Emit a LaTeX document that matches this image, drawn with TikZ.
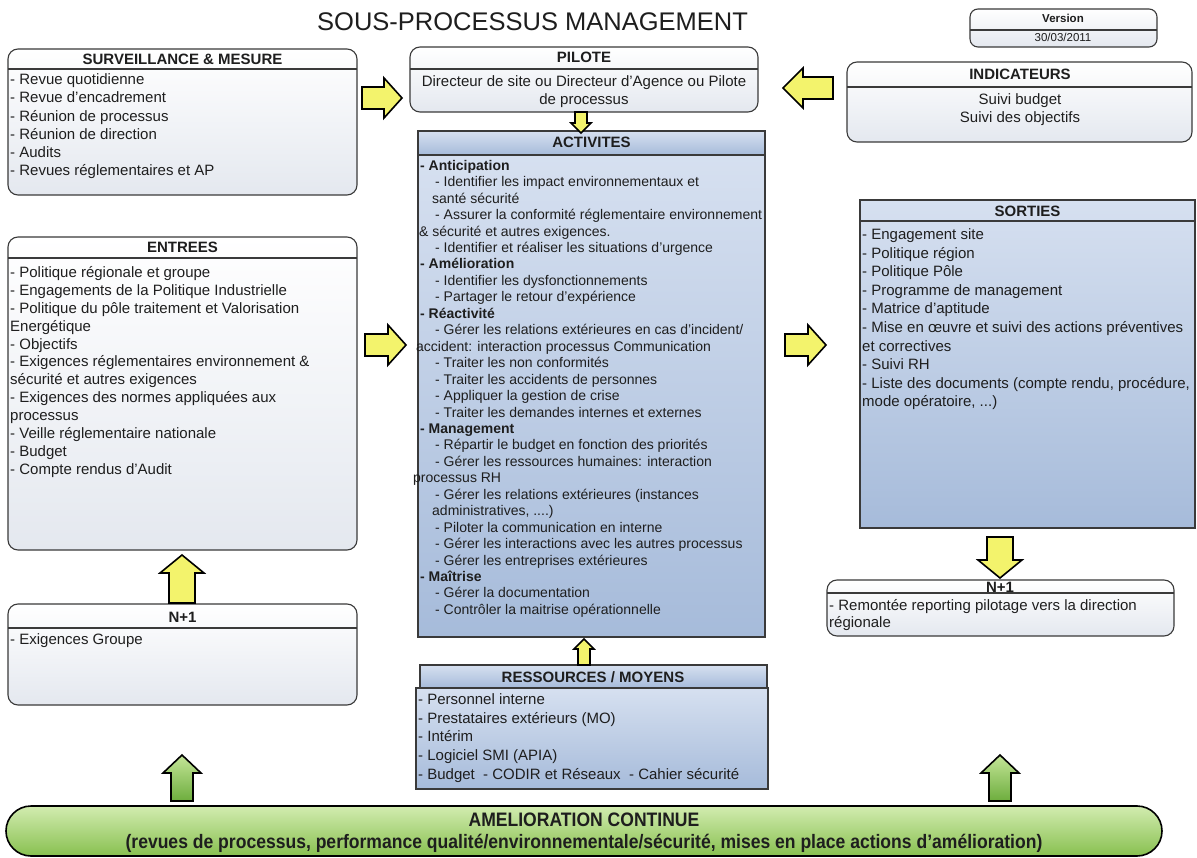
\documentclass[tikz,border=0pt]{standalone}
\usepackage{fontspec}
\setmainfont{Liberation Sans}
\newfontfamily\narrowfont[FakeStretch=0.9,Ligatures=TeX]{Liberation Sans}
\usetikzlibrary{calc}
\definecolor{boxline}{HTML}{3A3A3A}
\definecolor{txt}{HTML}{1E1E1E}
\definecolor{wtop}{HTML}{FFFFFF}
\definecolor{wbot}{HTML}{E4E8EF}
\definecolor{btop}{HTML}{D6E0F0}
\definecolor{bbot}{HTML}{A6BBDA}
\definecolor{yel}{HTML}{F3F36C}
\definecolor{gtop}{HTML}{C4E598}
\definecolor{gbot}{HTML}{6DAD3D}
\definecolor{bartop}{HTML}{D2ECB0}
\definecolor{barbot}{HTML}{88C050}
\newcommand\tlines[1]{\begin{tabular}[t]{@{}l@{}}#1\end{tabular}}
\newcommand\clines[1]{\begin{tabular}[t]{@{}c@{}}#1\end{tabular}}
\newcommand\blockarrow[6]{%
  \coordinate (ah) at ($(#3)!#6!(#2)$);
  \path[#1] ($(#2)!#5!90:(#3)$) -- ($(ah)!#5!-90:(#2)$) -- ($(ah)!#4!-90:(#2)$) -- (#3)
    -- ($(ah)!#4!90:(#2)$) -- ($(ah)!#5!90:(#2)$) -- ($(#2)!#5!-90:(#3)$) -- cycle;}
\tikzset{
  rbox/.style={draw=boxline, line width=1.1pt, rounded corners=10pt, top color=wtop, bottom color=wbot,
    inner sep=0pt, outer sep=0pt, anchor=north west},
  bbox/.style={draw=boxline, line width=1.3pt, top color=btop, bottom color=bbot,
    inner sep=0pt, outer sep=0pt, anchor=north west},
  hdr/.style={font=\fontsize{15}{18}\selectfont\bfseries, text=txt, inner sep=0pt, anchor=base},
  body/.style={font=\fontsize{15}{#1}\selectfont, text=txt, inner sep=0pt, anchor=base west},
  cbody/.style={font=\fontsize{15}{#1}\selectfont, text=txt, inner sep=0pt, anchor=base},
  bartext/.style={font=\narrowfont\fontsize{19.5}{22}\selectfont\bfseries, text=txt, inner sep=0pt, anchor=base},
  divider/.style={draw=boxline, line width=1.1pt},
  yarrow/.style={draw=black, line width=1.6pt, fill=yel, line join=miter},
  garrow/.style={draw=black, line width=1.6pt, top color=gtop, bottom color=gbot, line join=miter},
}
\begin{document}
\begin{tikzpicture}[x=1pt, y=-1pt]
\fill[white] (0,0) rectangle (1197,858);
\useasboundingbox (0,0) rectangle (1197,858);

% title
\node[font=\fontsize{25.5}{30}\selectfont, text=txt, inner sep=0pt, anchor=base west] (title) at (317,31) {SOUS-PROCESSUS MANAGEMENT};

% version
\node[rbox, rounded corners=8pt, minimum width=187pt, minimum height=38pt] (ver) at (970,9) {};
\draw[divider] ($(ver.north west)+(0,21)$) -- ($(ver.north east)+(0,21)$);
\node[font=\fontsize{11.5}{14}\selectfont\bfseries, text=txt, inner sep=0pt, anchor=base] (vert) at (1063,23) {Version};
\node[font=\fontsize{11.5}{14}\selectfont, text=txt, inner sep=0pt, anchor=base] (verd) at (1063,42) {30/03/2011};

% surveillance
\node[rbox, minimum width=349pt, minimum height=146pt] (surv) at (8,49) {};
\draw[divider] ($(surv.north west)+(0,20)$) -- ($(surv.north east)+(0,20)$);
\node[hdr] (survh) at (182.5,65) {SURVEILLANCE \& MESURE};
\node[body=18.3] (survb) at (10,84.5) {\tlines{- Revue quotidienne\\- Revue d'encadrement\\- Réunion de processus\\- Réunion de direction\\- Audits\\- Revues réglementaires et AP}};

% pilote
\node[rbox, minimum width=348pt, minimum height=65pt] (pil) at (410,47) {};
\draw[divider] ($(pil.north west)+(0,22)$) -- ($(pil.north east)+(0,22)$);
\node[hdr] (pilh) at (584,63) {PILOTE};
\node[cbody=18] (pilb) at (584,86.5) {\clines{Directeur de site ou Directeur d'Agence ou Pilote\\de processus}};

% indicateurs
\node[rbox, minimum width=345pt, minimum height=80pt] (ind) at (847,62) {};
\draw[divider] ($(ind.north west)+(0,25)$) -- ($(ind.north east)+(0,25)$);
\node[hdr] (indh) at (1020,80) {INDICATEURS};
\node[cbody=18] (indb) at (1020,104.5) {\clines{Suivi budget\\Suivi des objectifs}};

% activites
\node[bbox, minimum width=347pt, minimum height=24pt] (acth) at (418,131) {};
\node[bbox, minimum width=347pt, minimum height=482pt] (act) at (418,155) {};
\node[hdr] (acthl) at (591.5,148) {ACTIVITES};
\node[font=\fontsize{14}{16.45}\selectfont, text=txt, inner sep=0pt, anchor=base west] (actb) at (420,170.3) {\tlines{%
\textbf{- Anticipation}\\
\hspace*{15pt}- Identifier les impact environnementaux et\\
\hspace*{12pt}santé sécurité\\
\hspace*{15pt}- Assurer la conformité réglementaire environnement\\
\hspace*{-1pt}\& sécurité et autres exigences.\\
\hspace*{15pt}- Identifier et réaliser les situations d'urgence\\
\textbf{- Amélioration}\\
\hspace*{15pt}- Identifier les dysfonctionnements\\
\hspace*{15pt}- Partager le retour d'expérience\\
\textbf{- Réactivité}\\
\hspace*{15pt}- Gérer les relations extérieures en cas d'incident/\\
\hspace*{-4pt}accident: interaction processus Communication\\
\hspace*{15pt}- Traiter les non conformités\\
\hspace*{15pt}- Traiter les accidents de personnes\\
\hspace*{15pt}- Appliquer la gestion de crise\\
\hspace*{15pt}- Traiter les demandes internes et externes\\
\textbf{- Management}\\
\hspace*{15pt}- Répartir le budget en fonction des priorités\\
\hspace*{15pt}- Gérer les ressources humaines: interaction\\
\hspace*{-7pt}processus RH\\
\hspace*{15pt}- Gérer les relations extérieures (instances\\
\hspace*{12pt}administratives, ....)\\
\hspace*{15pt}- Piloter la communication en interne\\
\hspace*{15pt}- Gérer les interactions avec les autres processus\\
\hspace*{15pt}- Gérer les entreprises extérieures\\
\textbf{- Maîtrise}\\
\hspace*{15pt}- Gérer la documentation\\
\hspace*{15pt}- Contrôler la maitrise opérationnelle}};

% entrees
\node[rbox, minimum width=349pt, minimum height=313pt] (ent) at (8,237) {};
\draw[divider] ($(ent.north west)+(0,21)$) -- ($(ent.north east)+(0,21)$);
\node[hdr] (enth) at (182.5,253) {ENTREES};
\node[body=17.9] (entb) at (10,277.5) {\tlines{- Politique régionale et groupe\\- Engagements de la Politique Industrielle\\- Politique du pôle traitement et Valorisation\\Energétique\\- Objectifs\\- Exigences réglementaires environnement \&\\sécurité et autres exigences\\- Exigences des normes appliquées aux\\processus\\- Veille réglementaire nationale\\- Budget\\- Compte rendus d'Audit}};

% sorties
\node[bbox, minimum width=335pt, minimum height=328pt] (sor) at (860,200) {};
\draw[divider] ($(sor.north west)+(0,21)$) -- ($(sor.north east)+(0,21)$);
\node[hdr] (sorh) at (1027.5,217) {SORTIES};
\node[body=18.6] (sorb) at (862,239.5) {\tlines{- Engagement site\\- Politique région\\- Politique Pôle\\- Programme de management\\- Matrice d'aptitude\\- Mise en œuvre et suivi des actions préventives\\et correctives\\- Suivi RH\\- Liste des documents (compte rendu, procédure,\\mode opératoire, ...)}};

% N+1 left
\node[rbox, minimum width=349pt, minimum height=101pt] (nl) at (8,604) {};
\draw[divider] ($(nl.north west)+(0,24)$) -- ($(nl.north east)+(0,24)$);
\node[hdr] (nlh) at (182.5,622) {N+1};
\node[body=18] (nlb) at (10,644.5) {\tlines{- Exigences Groupe}};

% N+1 right
\node[rbox, minimum width=347pt, minimum height=56pt] (nr) at (827,580) {};
\draw[divider] ($(nr.north west)+(0,13)$) -- ($(nr.north east)+(0,13)$);
\node[hdr] (nrh) at (1000,592) {N+1};
\node[body=16.5] (nrb) at (829,610.5) {\tlines{- Remontée reporting pilotage vers la direction\\régionale}};

% ressources
\node[bbox, minimum width=347pt, minimum height=23pt] (resh) at (420,665) {};
\node[bbox, minimum width=352pt, minimum height=101pt] (res) at (416,688) {};
\node[hdr] (reshl) at (593,682) {RESSOURCES / MOYENS};
\node[body=18.7] (resb) at (418,704.5) {\tlines{- Personnel interne\\- Prestataires extérieurs (MO)\\- Intérim\\- Logiciel SMI (APIA)\\- Budget\ \ - CODIR et Réseaux\ \ - Cahier sécurité}};

% amelioration continue
\node[draw=black, line width=1.6pt, rounded corners=25pt, top color=bartop, bottom color=barbot,
  minimum width=1156pt, minimum height=50pt, inner sep=0pt, outer sep=0pt, anchor=north west] (amel) at (6,806) {};
\node[bartext] (amel1) at (584,826) {AMELIORATION CONTINUE};
\node[bartext] (amel2) at (584,848) {(revues de processus, performance qualité/environnementale/sécurité, mises en place actions d'amélioration)};

% arrows
\coordinate (a1t) at (362,98);   \coordinate (a1p) at (402,98);
\coordinate (a2t) at (833,88);   \coordinate (a2p) at (783,88);
\coordinate (a3t) at (581,112);  \coordinate (a3p) at (581,133);
\coordinate (a4t) at (365,345);  \coordinate (a4p) at (406,345);
\coordinate (a5t) at (785,345);  \coordinate (a5p) at (826,345);
\coordinate (a6t) at (182,603);  \coordinate (a6p) at (182,555);
\coordinate (a7t) at (1000,537); \coordinate (a7p) at (1000,578);
\coordinate (a8t) at (584,665);  \coordinate (a8p) at (584,639);
\coordinate (g1t) at (182,801);  \coordinate (g1p) at (182,755);
\coordinate (g2t) at (1000,801); \coordinate (g2p) at (1000,755);
\blockarrow{yarrow}{a1t}{a1p}{20pt}{11pt}{18pt}
\blockarrow{yarrow}{a2t}{a2p}{20pt}{11pt}{20pt}
\blockarrow{yarrow}{a3t}{a3p}{10pt}{6pt}{10pt}
\blockarrow{yarrow}{a4t}{a4p}{20pt}{11pt}{18pt}
\blockarrow{yarrow}{a5t}{a5p}{20pt}{11pt}{18pt}
\blockarrow{yarrow}{a6t}{a6p}{22pt}{13pt}{18pt}
\blockarrow{yarrow}{a7t}{a7p}{22pt}{13pt}{18pt}
\blockarrow{yarrow}{a8t}{a8p}{10pt}{6pt}{10pt}
\blockarrow{garrow}{g1t}{g1p}{19pt}{11pt}{18pt}
\blockarrow{garrow}{g2t}{g2p}{19pt}{11pt}{18pt}
\end{tikzpicture}
\end{document}
